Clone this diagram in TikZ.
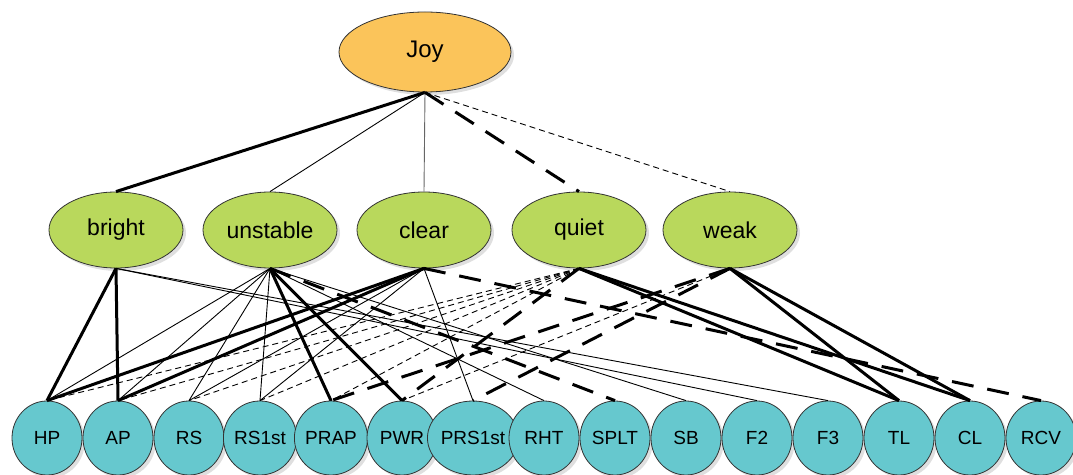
\documentclass[tikz,border=0pt]{standalone}
\usepackage{fontspec}
\setmainfont{Liberation Sans}
\usepackage{xcolor}
\usepackage{tikz}
\usetikzlibrary{shapes.geometric,shadows}

\definecolor{joyorange}{RGB}{251,196,90}
\definecolor{adjgreen}{RGB}{185,216,92}
\definecolor{featcyan}{RGB}{102,200,206}

\begin{document}
\begin{tikzpicture}[x=0.5pt,y=-0.5pt]
        \tikzstyle{every node}=[ellipse,draw=black!80,thin,inner sep=0pt,
            drop shadow={opacity=0.25,shadow xshift=1.5pt,shadow yshift=-1.5pt}]
        \tikzstyle{root}=[fill=joyorange,minimum width=86pt,minimum height=40pt,font=\fontsize{12}{14}\selectfont]
        \tikzstyle{adj}=[fill=adjgreen,minimum width=67pt,minimum height=38pt,font=\fontsize{11.5}{14}\selectfont]
        \tikzstyle{leaf}=[fill=featcyan,minimum width=35pt,minimum height=37pt,font=\fontsize{9.5}{11}\selectfont]
        \tikzstyle{strongpos}=[line width=1.5pt]
        \tikzstyle{weakpos}=[line width=0.45pt]
        \tikzstyle{strongneg}=[line width=1.5pt,dash pattern=on 11pt off 7pt]
        \tikzstyle{weakneg}=[line width=0.45pt,dash pattern=on 3pt off 2pt]
        \useasboundingbox (0,0) rectangle (1073,475);
        % emotion
        \node[root] (Joy) at (425,52) {Joy};
        % adjectives
        \foreach \name/\x in {bright/116,unstable/270,clear/424,quiet/579,weak/730}
            \node[adj] (\name) at (\x,230) {\name};
        % features
        \foreach \name [count=\i] in {HP,AP,RS,RS1st,PRAP,PWR,PRS1st,RHT,SPLT,SB,F2,F3,TL,CL,RCV}
            \node[leaf] (\name) at ({-24+71*\i},438) {\name};
        % links from Joy
        \draw[strongpos] (Joy.south) -- (bright.north);
        \draw[weakpos] (Joy.south) -- (unstable.north);
        \draw[weakpos,black!60] (Joy.south) -- (clear.north);
        \draw[strongneg] (Joy.south) -- (quiet.north);
        \draw[weakneg] (Joy.south) -- (weak.north);
        % links to features
        \foreach \a/\b in {bright/HP,bright/AP,unstable/PRAP,unstable/PWR,clear/HP,clear/AP,
                quiet/TL,quiet/CL,weak/TL,weak/CL}
            \draw[strongpos] (\a.south) -- (\b.north);
        \foreach \a/\b in {bright/F2,bright/F3,unstable/HP,unstable/AP,unstable/RS,unstable/RS1st,
                unstable/RHT,unstable/SB,clear/RS,clear/RS1st,clear/PRS1st}
            \draw[weakpos] (\a.south) -- (\b.north);
        \foreach \a/\b in {clear/RCV,unstable/SPLT,quiet/PWR,weak/PRAP,weak/PRS1st}
            \draw[strongneg] (\a.south) -- (\b.north);
        \foreach \a/\b in {quiet/HP,quiet/AP,quiet/RS,quiet/RS1st,quiet/PRAP,weak/PWR}
            \draw[weakneg] (\a.south) -- (\b.north);
\end{tikzpicture}
\end{document}
